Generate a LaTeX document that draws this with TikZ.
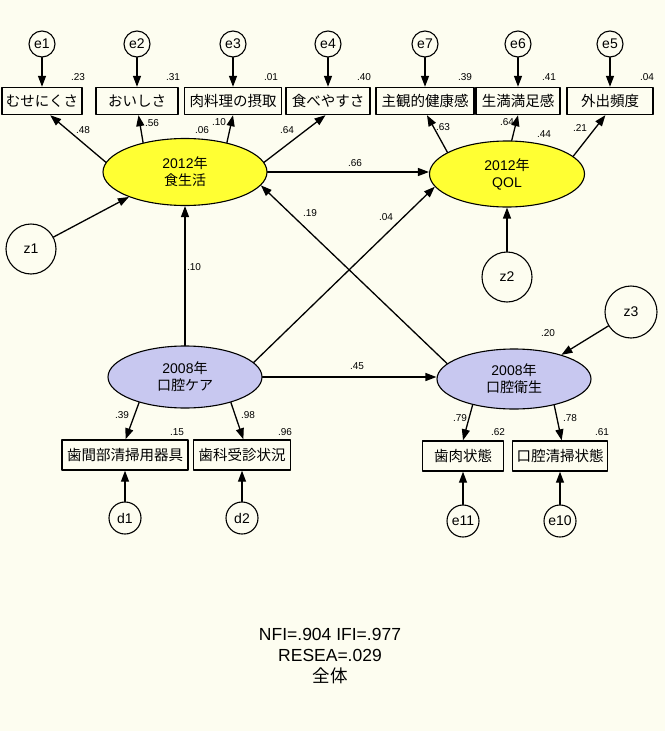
\documentclass[tikz,border=0pt]{standalone}
\usepackage{fontspec}
\setmainfont{Liberation Sans}
\newfontfamily\jp{Noto Sans CJK JP}
\usetikzlibrary{shapes.geometric,arrows.meta}
\definecolor{fond}{RGB}{253,253,240}
\definecolor{jaune}{RGB}{255,255,51}
\definecolor{lavande}{RGB}{200,200,240}

\begin{document}
\begin{tikzpicture}[x=1pt,y=-1pt,line cap=round,line join=round,
  obs/.style={draw,line width=1.4pt,minimum height=27pt,inner sep=1pt,font=\jp\fontsize{14.5}{16}\selectfont},
  lat/.style={ellipse,draw,line width=1.1pt,inner sep=0pt,align=center,font=\fontsize{14}{17}\selectfont},
  res/.style={circle,draw,line width=1.1pt,inner sep=0pt,font=\fontsize{14}{16}\selectfont},
  fl/.style={line width=1.3pt,-{Triangle[length=11pt,width=8pt]}},
  coef/.style={inner sep=0pt,font=\fontsize{10}{11}\selectfont}]
			\useasboundingbox[fill=fond] (0,0) rectangle (665,731);
			% Variables latentes
			\node[lat,fill=jaune,minimum width=164pt,minimum height=67pt] (fs) at (185,172) {2012{\jp 年}\\{\jp 食生活}};
			\node[lat,fill=jaune,minimum width=155pt,minimum height=66pt] (q) at (507,174) {2012{\jp 年}\\QOL};
			\node[lat,fill=lavande,minimum width=154pt,minimum height=62pt] (kc) at (185,377) {2008{\jp 年}\\{\jp 口腔ケア}};
			\node[lat,fill=lavande,minimum width=154pt,minimum height=60pt] (ke) at (514,379) {2008{\jp 年}\\{\jp 口腔衛生}};
			% Etage du haut
			\node[obs,minimum width=80pt] (b1) at (42,101) {むせにくさ};
			\node[obs,minimum width=82pt] (b2) at (137,101) {おいしさ};
			\node[obs,minimum width=97pt] (b3) at (233,101) {肉料理の摂取};
			\node[obs,minimum width=84pt] (b4) at (328,101) {食べやすさ};
			\node[obs,minimum width=98pt] (b7) at (425,101) {主観的健康感};
			\node[obs,minimum width=84pt] (b6) at (518,101) {生満満足感};
			\node[obs,minimum width=86pt] (b5) at (610,101) {外出頻度};
			\node[res,minimum size=26pt] (e1) at (42,44) {e1};
			\node[res,minimum size=26pt] (e2) at (137,44) {e2};
			\node[res,minimum size=26pt] (e3) at (233,44) {e3};
			\node[res,minimum size=26pt] (e4) at (328,44) {e4};
			\node[res,minimum size=26pt] (e7) at (425,44) {e7};
			\node[res,minimum size=26pt] (e6) at (518,44) {e6};
			\node[res,minimum size=26pt] (e5) at (610,44) {e5};
			\foreach \i in {1,...,7}
				\draw[fl] (e\i) -- (b\i);
			\node[coef] (r1) at (78,77) {.23};
			\node[coef] (r2) at (173,77) {.31};
			\node[coef] (r3) at (271,77) {.01};
			\node[coef] (r4) at (364,77) {.40};
			\node[coef] (r7) at (465,77) {.39};
			\node[coef] (r6) at (549,77) {.41};
			\node[coef] (r5) at (647,77) {.04};
			\draw[fl] (fs.173) -- (b1.-60);
			\draw[fl] (fs.145) -- (b2.-84);
			\draw[fl] (fs.35) -- (b3.-90);
			\draw[fl] (fs.7) -- (b4.-100);
			\draw[fl] (q.160) -- (b7.-82);
			\draw[fl] (q.82) -- (b6.-90);
			\draw[fl] (q.15) -- (b5.-108);
			\node[coef] (p1) at (83,130) {.48};
			\node[coef] (p2) at (152,123) {.56};
			\node[coef] (p3) at (202,130) {.06};
			\node[coef] (p4) at (219,122) {.10};
			\node[coef] (p5) at (287,130) {.64};
			\node[coef] (p7) at (443,127) {.63};
			\node[coef] (p6) at (507,122) {.64};
			\node[coef] (p8) at (544,134) {.44};
			\node[coef] (p9) at (580,128) {.21};
			% Chemins structurels
			\node[res,minimum size=50pt] (z1) at (31,249) {z1};
			\node[res,minimum size=50pt] (z2) at (507,277) {z2};
			\node[res,minimum size=52pt] (z3) at (631,312) {z3};
			\draw[fl] (z1) -- (fs.204);
			\draw[fl] (z2) -- (q.south);
			\draw[fl] (z3) -- (ke.27);
			\draw[fl] (fs.east) -- (fs.east -| q.west);
			\draw[fl] (kc.north) -- (fs.south);
			\draw[fl] (kc.12) -- (q.190);
			\draw[fl] (ke.167) -- (fs.-10);
			\draw[fl] (kc.east) -- (kc.east -| ke.west);
			\node[coef] (s1) at (355,163) {.66};
			\node[coef] (s2) at (310,213) {.19};
			\node[coef] (s3) at (386,217) {.04};
			\node[coef] (s4) at (194,267) {.10};
			\node[coef] (s5) at (357,366) {.45};
			\node[coef] (s6) at (548,333) {.20};
			% Etage du bas
			\node[obs,minimum width=126pt,minimum height=30pt] (c1) at (125,455) {歯間部清掃用器具};
			\node[obs,minimum width=97pt,minimum height=30pt] (c2) at (242,455) {歯科受診状況};
			\node[obs,minimum width=81pt,minimum height=30pt] (c3) at (463,456) {歯肉状態};
			\node[obs,minimum width=95pt,minimum height=30pt] (c4) at (560,456) {口腔清掃状態};
			\node[res,minimum size=32pt] (d1) at (125,518) {d1};
			\node[res,minimum size=32pt] (d2) at (242,518) {d2};
			\node[res,minimum size=32pt] (e11) at (463,521) {e11};
			\node[res,minimum size=32pt] (e10) at (560,521) {e10};
			\draw[fl] (kc.209) -- (c1.88);
			\draw[fl] (kc.-29) -- (c2.85);
			\draw[fl] (ke.212) -- (c3.north);
			\draw[fl] (ke.-33) -- (c4.84);
			\draw[fl] (d1) -- (c1);
			\draw[fl] (d2) -- (c2);
			\draw[fl] (e11) -- (c3);
			\draw[fl] (e10) -- (c4);
			\node[coef] (t1) at (122,415) {.39};
			\node[coef] (t2) at (248,415) {.98};
			\node[coef] (t3) at (177,432) {.15};
			\node[coef] (t4) at (285,432) {.96};
			\node[coef] (t5) at (460,418) {.79};
			\node[coef] (t6) at (570,418) {.78};
			\node[coef] (t7) at (498,432) {.62};
			\node[coef] (t8) at (602,432) {.61};
			% Indices
			\node[font=\fontsize{17.5}{19}\selectfont] (fit1) at (330,634) {NFI=.904 IFI=.977};
			\node[font=\fontsize{17.5}{19}\selectfont] (fit2) at (330,655) {RESEA=.029};
			\node[font=\jp\fontsize{17.5}{19}\selectfont] (fit3) at (330,676) {全体};
\end{tikzpicture}
\end{document}
